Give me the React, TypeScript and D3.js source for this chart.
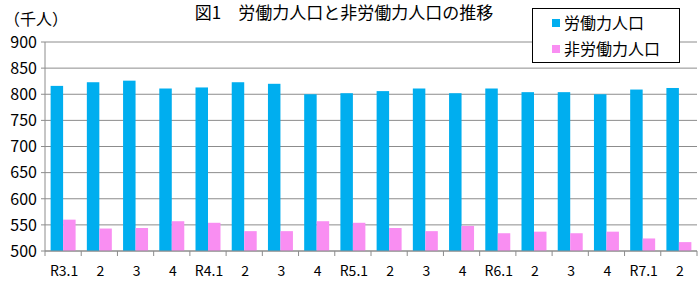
import React from "react";
import * as d3 from "d3";

const categories = ["R3.1","2","3","4","R4.1","2","3","4","R5.1","2","3","4","R6.1","2","3","4","R7.1","2"];
const laborForce = [816,823,826,811,813,823,820,800,802,806,811,802,811,804,804,800,809,812];
const nonLaborForce = [560,543,544,557,554,538,538,557,554,544,538,548,534,537,534,537,524,517];
const yTicks = [500,550,600,650,700,750,800,850,900];
const seriesNames = ["労働力人口","非労働力人口"];
const colors = ["#00AEEF","#F98EF2"];

const W = 700, H = 281;
const left = 45, right = 697, top = 42, bottom = 251;
const font = "'Noto Sans CJK JP', 'Noto Sans', sans-serif";

export default function App() {
  const idx = categories.map((_, i) => i);
  const x = d3.scaleBand<number>().domain(idx).range([left, right]).paddingInner(0).paddingOuter(0);
  const y = d3.scaleLinear().domain([500, 900]).range([bottom, top]);
  const inner = d3.scaleBand<number>().domain([0, 1]).range([0, x.bandwidth()]).paddingOuter(0.45).paddingInner(0);
  const series = [laborForce, nonLaborForce];
  const bw = inner.bandwidth();
  const boundaries = d3.range(categories.length + 1).map(i => left + i * x.step());

  return (
    <svg width={W} height={H} style={{ position: "absolute", left: 0, top: 0, background: "#fff" }} fontFamily={font}>
      {yTicks.map(t => (
        <line key={"g" + t} x1={left - 4} x2={right} y1={y(t)} y2={y(t)} stroke="#8c8c8c" strokeWidth={1} />
      ))}
      {yTicks.map(t => (
        <text key={"t" + t} x={37} y={y(t)} dy="0.36em" textAnchor="end" fontSize={16} fill="#000">{t}</text>
      ))}
      {series.map((s, si) => s.map((v, i) => (
        <rect key={`b${si}-${i}`} x={(x(i) as number) + (inner(si) as number)} width={bw}
          y={y(v)} height={y(500) - y(v)} fill={colors[si]} />
      )))}
      <line x1={left} x2={left} y1={top} y2={bottom} stroke="#8c8c8c" />
      <line x1={left} x2={right} y1={bottom} y2={bottom} stroke="#8c8c8c" />
      {boundaries.map((bx, i) => (
        <line key={"xt" + i} x1={bx} x2={bx} y1={bottom} y2={bottom + 5} stroke="#8c8c8c" />
      ))}
      {categories.map((c, i) => (
        <text key={"c" + i} x={(x(i) as number) + x.bandwidth() / 2 + 1} y={271} dy="0.35em" textAnchor="middle" fontSize={14} fill="#000">{c}</text>
      ))}
      <text x={4} y={19} dy="0.36em" fontSize={16} fill="#000">（千人）</text>
      <text x={344} y={13} dy="0.36em" textAnchor="middle" fontSize={17} fontWeight="normal" fill="#000">図1　労働力人口と非労働力人口の推移</text>
      <rect x={532.5} y={8.5} width={147} height={54} fill="#fff" stroke="#000" strokeWidth={1} />
      {seriesNames.map((n, i) => (
        <g key={"l" + i}>
          <rect x={552} y={(i === 0 ? 23 : 49) - 4} width={8} height={8} fill={colors[i]} />
          <text x={564} y={i === 0 ? 23 : 49} dy="0.36em" fontSize={16} fill="#000">{n}</text>
        </g>
      ))}
    </svg>
  );
}
